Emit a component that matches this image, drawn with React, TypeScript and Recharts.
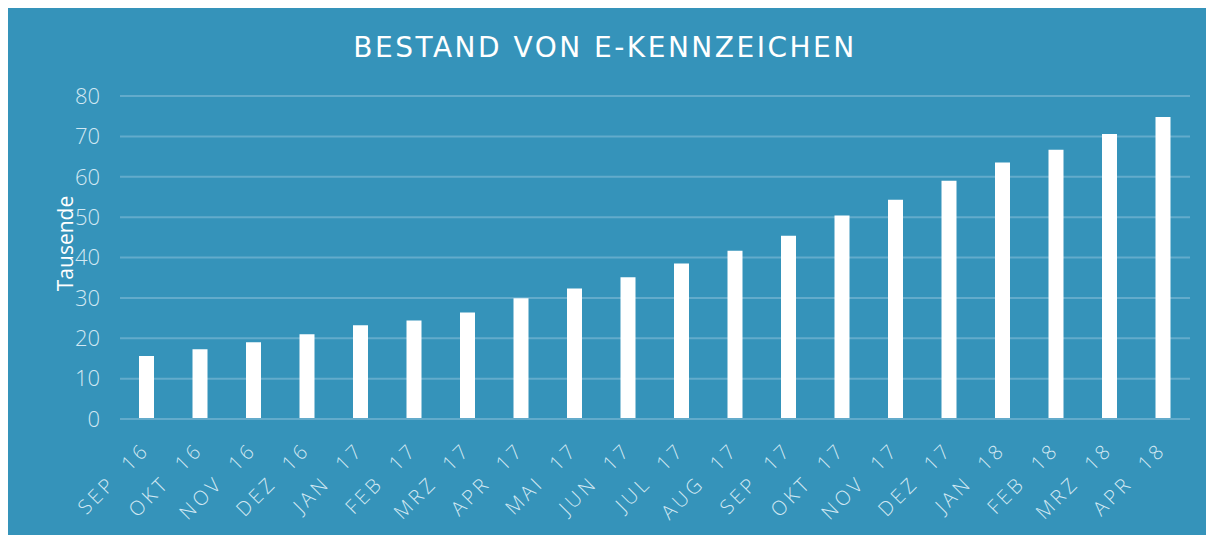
import React from 'react';
import { BarChart, Bar, XAxis, YAxis, CartesianGrid, Label } from 'recharts';

const categories = ['SEP  16','OKT  16','NOV  16','DEZ  16','JAN  17','FEB  17','MRZ  17','APR  17','MAI  17','JUN  17','JUL  17','AUG  17','SEP  17','OKT  17','NOV  17','DEZ  17','JAN  18','FEB  18','MRZ  18','APR  18'];
const values = [15.6,17.3,19.0,21.0,23.2,24.4,26.4,29.9,32.3,35.1,38.5,41.7,45.4,50.4,54.3,59.0,63.5,66.7,70.6,74.8];
const yTicks = [0,10,20,30,40,50,60,70,80];

const data = categories.map((c, i) => ({ name: c, value: values[i] }));

const BG = '#3593BA';
const GRID = '#63ABCB';
const TICK = '#D2E8F3';
const TITLE_FONT = '"DejaVu Sans", Verdana, sans-serif';
const FONT = '"Open Sans", sans-serif';

const XTick = (props: any) => {
  const { x, y, payload } = props;
  const ax = x + 4;
  const ay = y + 24;
  return (
    <text x={ax} y={ay} transform={`rotate(-45, ${ax}, ${ay})`} textAnchor="end" fill={TICK} fontSize={20} fontWeight={300} fontFamily={FONT} letterSpacing={3.5} style={{ whiteSpace: 'pre' }}>
      {payload.value}
    </text>
  );
};

export default function App() {
  return (
    <div style={{ position: 'relative', width: 1206, height: 528, background: BG, marginTop: -1 }}>
      <div style={{ position: 'absolute', top: 24, left: -6, width: 1206, textAlign: 'center', color: '#FFFFFF', fontFamily: TITLE_FONT, fontSize: 28, letterSpacing: 2.5 }}>
        BESTAND VON E-KENNZEICHEN
      </div>
      <BarChart width={1206} height={528} data={data} margin={{ top: 89, right: 24, left: 0, bottom: 0 }} barCategoryGap={0}>
        <CartesianGrid vertical={false} stroke={GRID} strokeWidth={2} />
        <XAxis dataKey="name" interval={0} height={116} tick={<XTick />} tickLine={false} axisLine={{ stroke: GRID, strokeWidth: 2 }} />
        <YAxis width={112} domain={[0, 80]} ticks={yTicks} tickLine={false} axisLine={false} tick={{ fill: TICK, fontSize: 22, fontWeight: 300, fontFamily: FONT }} tickMargin={14}>
          <Label content={(p: any) => {
            const vb = p.viewBox;
            const cx = 57;
            const cy = vb.y + vb.height / 2 - 14;
            return <text x={cx} y={cy} transform={`rotate(-90, ${cx}, ${cy})`} textAnchor="middle" dominantBaseline="central" fill="#FFFFFF" fontSize={21} fontFamily={FONT}>Tausende</text>;
          }} />
        </YAxis>
        <Bar dataKey="value" fill="#FFFFFF" barSize={15} isAnimationActive={false} />
      </BarChart>
    </div>
  );
}
